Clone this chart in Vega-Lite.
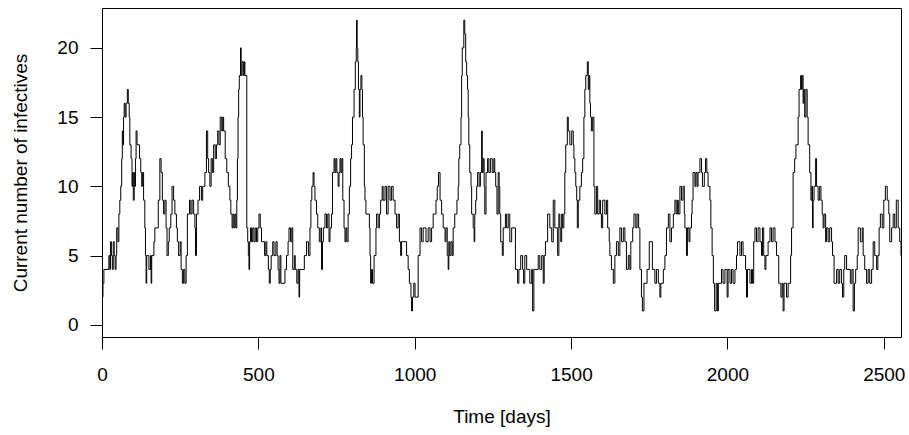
{
  "$schema": "https://vega.github.io/schema/vega-lite/v6.json",
  "description": "Step plot of the current number of infectives over seven years of a simulated epidemic.",
  "width": 799,
  "height": 329,
  "autosize": "none",
  "padding": {"left": 102, "top": 8, "right": 8, "bottom": 98},
  "background": "white",
  "config": {
    "view": {"stroke": "black", "strokeWidth": 1},
    "font": "Liberation Sans",
    "axis": {
      "domain": false,
      "grid": false,
      "tickColor": "black",
      "tickSize": 12,
      "tickWidth": 1,
      "labelColor": "black",
      "labelFont": "Liberation Sans",
      "labelFontSize": 19,
      "titleColor": "black",
      "titleFont": "Liberation Sans",
      "titleFontSize": 19,
      "titleFontWeight": "normal"
    }
  },
  "data": {
    "values": [
      {"t":0,"n":2},{"t":3,"n":3},{"t":6,"n":4},{"t":22,"n":5},{"t":25,"n":4},{"t":27,"n":6},{"t":30,"n":5},{"t":33,"n":4},{"t":36,"n":6},{"t":39,"n":5},
      {"t":42,"n":4},{"t":45,"n":5},{"t":47,"n":7},{"t":51,"n":6},{"t":54,"n":8},{"t":57,"n":9},{"t":60,"n":10},{"t":63,"n":12},{"t":65,"n":14},{"t":67,"n":13},
      {"t":69,"n":15},{"t":71,"n":16},{"t":74,"n":15},{"t":77,"n":16},{"t":81,"n":17},{"t":84,"n":16},{"t":87,"n":15},{"t":89,"n":13},{"t":93,"n":12},{"t":96,"n":10},
      {"t":98,"n":11},{"t":100,"n":9},{"t":103,"n":11},{"t":105,"n":10},{"t":107,"n":12},{"t":109,"n":14},{"t":112,"n":13},{"t":120,"n":12},{"t":124,"n":11},{"t":127,"n":10},
      {"t":130,"n":11},{"t":133,"n":9},{"t":137,"n":7},{"t":139,"n":5},{"t":141,"n":3},{"t":143,"n":5},{"t":150,"n":4},{"t":155,"n":5},{"t":157,"n":3},{"t":159,"n":5},
      {"t":166,"n":6},{"t":169,"n":7},{"t":180,"n":9},{"t":185,"n":12},{"t":189,"n":11},{"t":193,"n":9},{"t":197,"n":8},{"t":201,"n":9},{"t":205,"n":7},{"t":208,"n":5},
      {"t":212,"n":6},{"t":215,"n":7},{"t":220,"n":8},{"t":224,"n":10},{"t":229,"n":9},{"t":233,"n":8},{"t":238,"n":7},{"t":241,"n":6},{"t":245,"n":5},{"t":250,"n":6},
      {"t":253,"n":4},{"t":257,"n":3},{"t":261,"n":4},{"t":265,"n":3},{"t":269,"n":5},{"t":273,"n":8},{"t":280,"n":9},{"t":284,"n":8},{"t":288,"n":9},{"t":293,"n":8},
      {"t":297,"n":7},{"t":299,"n":5},{"t":302,"n":8},{"t":307,"n":9},{"t":312,"n":10},{"t":318,"n":9},{"t":322,"n":10},{"t":329,"n":11},{"t":334,"n":14},{"t":338,"n":12},
      {"t":341,"n":11},{"t":345,"n":10},{"t":349,"n":12},{"t":353,"n":11},{"t":357,"n":13},
      {"t":362,"n":12},{"t":366,"n":13},{"t":370,"n":14},{"t":374,"n":13},{"t":378,"n":15},{"t":383,"n":14},{"t":386,"n":15},{"t":389,"n":14},{"t":394,"n":12},{"t":399,"n":11},
      {"t":404,"n":10},{"t":409,"n":9},{"t":412,"n":8},{"t":416,"n":7},{"t":419,"n":8},{"t":422,"n":7},{"t":425,"n":8},{"t":428,"n":7},{"t":431,"n":9},{"t":433,"n":12},
      {"t":435,"n":15},{"t":437,"n":17},{"t":439,"n":18},{"t":443,"n":20},{"t":445,"n":18},{"t":448,"n":19},{"t":452,"n":18},{"t":455,"n":19},{"t":457,"n":18},{"t":463,"n":7},
      {"t":466,"n":6},{"t":468,"n":5},{"t":470,"n":4},{"t":472,"n":6},{"t":475,"n":7},{"t":478,"n":6},{"t":482,"n":7},{"t":486,"n":6},{"t":490,"n":7},{"t":494,"n":6},
      {"t":498,"n":7},{"t":502,"n":8},{"t":506,"n":7},{"t":510,"n":6},{"t":520,"n":5},{"t":524,"n":6},{"t":527,"n":5},{"t":532,"n":4},{"t":535,"n":3},{"t":538,"n":4},
      {"t":541,"n":5},{"t":546,"n":6},{"t":550,"n":5},{"t":556,"n":6},{"t":560,"n":5},{"t":563,"n":4},{"t":566,"n":3},{"t":569,"n":5},{"t":572,"n":3},{"t":585,"n":4},
      {"t":590,"n":5},{"t":595,"n":6},{"t":598,"n":7},{"t":603,"n":6},{"t":607,"n":7},{"t":610,"n":4},{"t":615,"n":5},{"t":618,"n":4},{"t":623,"n":3},{"t":627,"n":4},
      {"t":630,"n":2},{"t":632,"n":4},{"t":647,"n":5},{"t":654,"n":6},{"t":660,"n":5},{"t":665,"n":7},{"t":668,"n":9},{"t":671,"n":10},{"t":675,"n":11},{"t":678,"n":10},
      {"t":681,"n":9},{"t":686,"n":8},{"t":690,"n":7},{"t":695,"n":6},{"t":700,"n":7},{"t":702,"n":4},{"t":705,"n":6},{"t":708,"n":7},{"t":713,"n":8},{"t":718,"n":7},
      {"t":722,"n":8},{"t":726,"n":6},
      {"t":729,"n":7},{"t":734,"n":8},{"t":737,"n":11},{"t":742,"n":12},{"t":745,"n":11},{"t":748,"n":12},{"t":751,"n":11},{"t":755,"n":10},{"t":758,"n":11},{"t":761,"n":12},
      {"t":764,"n":11},{"t":767,"n":12},{"t":770,"n":9},{"t":774,"n":7},{"t":777,"n":6},{"t":780,"n":7},{"t":783,"n":6},{"t":787,"n":8},{"t":791,"n":10},{"t":795,"n":12},
      {"t":798,"n":13},{"t":801,"n":15},{"t":806,"n":17},{"t":810,"n":19},{"t":813,"n":20},{"t":814,"n":22},{"t":816,"n":20},{"t":818,"n":19},{"t":820,"n":17},{"t":823,"n":15},
      {"t":825,"n":17},{"t":828,"n":18},{"t":831,"n":17},{"t":833,"n":15},{"t":835,"n":13},{"t":839,"n":10},{"t":841,"n":9},{"t":844,"n":8},{"t":855,"n":7},{"t":857,"n":5},
      {"t":859,"n":3},{"t":862,"n":4},{"t":865,"n":3},{"t":870,"n":5},{"t":876,"n":7},{"t":878,"n":8},{"t":883,"n":7},{"t":887,"n":8},{"t":891,"n":9},{"t":896,"n":10},
      {"t":899,"n":9},{"t":905,"n":10},{"t":910,"n":8},{"t":915,"n":10},{"t":921,"n":9},{"t":926,"n":10},{"t":931,"n":9},{"t":937,"n":8},{"t":942,"n":7},{"t":947,"n":8},
      {"t":951,"n":6},{"t":955,"n":5},{"t":958,"n":6},{"t":974,"n":5},{"t":979,"n":4},{"t":983,"n":3},{"t":988,"n":2},{"t":990,"n":1},{"t":993,"n":2},{"t":997,"n":3},
      {"t":1001,"n":2},{"t":1011,"n":5},{"t":1017,"n":7},{"t":1022,"n":6},{"t":1027,"n":7},{"t":1036,"n":6},{"t":1043,"n":7},{"t":1049,"n":6},{"t":1054,"n":7},{"t":1059,"n":8},
      {"t":1068,"n":9},{"t":1072,"n":10},{"t":1076,"n":11},{"t":1081,"n":9},{"t":1086,"n":8},{"t":1091,"n":7},
      {"t":1097,"n":6},{"t":1100,"n":7},{"t":1104,"n":5},{"t":1107,"n":4},{"t":1109,"n":6},{"t":1112,"n":5},{"t":1116,"n":6},{"t":1120,"n":5},{"t":1123,"n":7},{"t":1128,"n":8},
      {"t":1135,"n":9},{"t":1139,"n":10},{"t":1141,"n":12},{"t":1144,"n":13},{"t":1148,"n":15},{"t":1150,"n":18},{"t":1152,"n":20},{"t":1157,"n":22},{"t":1160,"n":21},{"t":1163,"n":19},
      {"t":1166,"n":18},{"t":1169,"n":17},{"t":1171,"n":15},{"t":1173,"n":13},{"t":1176,"n":11},{"t":1180,"n":10},{"t":1182,"n":8},{"t":1187,"n":7},{"t":1190,"n":6},{"t":1192,"n":8},
      {"t":1195,"n":9},{"t":1198,"n":10},{"t":1201,"n":11},{"t":1206,"n":10},{"t":1210,"n":11},{"t":1214,"n":14},{"t":1216,"n":11},{"t":1219,"n":12},{"t":1222,"n":10},{"t":1224,"n":8},
      {"t":1228,"n":11},{"t":1233,"n":12},{"t":1237,"n":11},{"t":1242,"n":12},{"t":1248,"n":11},{"t":1253,"n":12},{"t":1256,"n":11},{"t":1259,"n":10},{"t":1263,"n":8},{"t":1267,"n":11},
      {"t":1270,"n":10},{"t":1272,"n":8},{"t":1275,"n":6},{"t":1280,"n":5},{"t":1283,"n":7},{"t":1290,"n":8},{"t":1294,"n":7},{"t":1299,"n":8},{"t":1304,"n":6},{"t":1310,"n":7},
      {"t":1322,"n":4},{"t":1329,"n":3},{"t":1333,"n":4},{"t":1339,"n":5},{"t":1345,"n":4},{"t":1348,"n":3},{"t":1352,"n":5},{"t":1358,"n":4},{"t":1368,"n":3},{"t":1374,"n":4},
      {"t":1377,"n":1},{"t":1381,"n":4},{"t":1395,"n":5},{"t":1400,"n":4},{"t":1406,"n":5},{"t":1411,"n":3},{"t":1414,"n":5},{"t":1418,"n":6},{"t":1425,"n":8},{"t":1432,"n":7},
      {"t":1438,"n":6},{"t":1443,"n":9},{"t":1448,"n":7},{"t":1457,"n":5},{"t":1461,"n":8},
      {"t":1464,"n":7},{"t":1467,"n":6},{"t":1470,"n":8},{"t":1473,"n":7},{"t":1477,"n":8},{"t":1480,"n":11},{"t":1483,"n":13},{"t":1488,"n":15},{"t":1491,"n":14},{"t":1496,"n":13},
      {"t":1502,"n":14},{"t":1507,"n":13},{"t":1509,"n":12},{"t":1512,"n":11},{"t":1515,"n":10},{"t":1518,"n":9},{"t":1520,"n":7},{"t":1523,"n":9},{"t":1528,"n":10},{"t":1533,"n":11},
      {"t":1537,"n":12},{"t":1541,"n":15},{"t":1544,"n":17},{"t":1547,"n":18},{"t":1552,"n":19},{"t":1555,"n":17},{"t":1558,"n":18},{"t":1560,"n":16},{"t":1562,"n":15},{"t":1565,"n":14},
      {"t":1569,"n":15},{"t":1573,"n":10},{"t":1576,"n":8},{"t":1581,"n":10},{"t":1585,"n":8},{"t":1590,"n":9},{"t":1594,"n":8},{"t":1597,"n":7},{"t":1601,"n":9},{"t":1608,"n":8},
      {"t":1613,"n":9},{"t":1617,"n":7},{"t":1622,"n":6},{"t":1624,"n":5},{"t":1629,"n":4},{"t":1635,"n":3},{"t":1640,"n":5},{"t":1645,"n":6},{"t":1651,"n":5},{"t":1656,"n":7},
      {"t":1661,"n":6},{"t":1667,"n":7},{"t":1672,"n":6},{"t":1677,"n":4},{"t":1683,"n":5},{"t":1688,"n":4},{"t":1691,"n":6},{"t":1697,"n":7},{"t":1701,"n":8},{"t":1707,"n":7},
      {"t":1711,"n":8},{"t":1716,"n":7},{"t":1720,"n":4},{"t":1725,"n":2},{"t":1728,"n":1},{"t":1733,"n":3},{"t":1743,"n":4},{"t":1750,"n":6},{"t":1760,"n":4},{"t":1768,"n":3},
      {"t":1773,"n":4},{"t":1779,"n":3},{"t":1784,"n":2},{"t":1787,"n":3},{"t":1795,"n":4},{"t":1800,"n":5},{"t":1805,"n":7},{"t":1811,"n":8},{"t":1816,"n":6},{"t":1821,"n":7},
      {"t":1827,"n":8},
      {"t":1832,"n":9},{"t":1836,"n":8},{"t":1840,"n":9},{"t":1843,"n":8},{"t":1848,"n":10},{"t":1853,"n":9},{"t":1858,"n":10},{"t":1862,"n":8},{"t":1864,"n":7},{"t":1869,"n":5},
      {"t":1872,"n":7},{"t":1877,"n":6},{"t":1880,"n":7},{"t":1885,"n":8},{"t":1887,"n":9},{"t":1890,"n":11},{"t":1896,"n":10},{"t":1899,"n":11},{"t":1903,"n":10},{"t":1906,"n":11},
      {"t":1912,"n":12},{"t":1917,"n":11},{"t":1920,"n":10},{"t":1926,"n":11},{"t":1930,"n":12},{"t":1934,"n":11},{"t":1938,"n":10},{"t":1944,"n":9},{"t":1947,"n":7},{"t":1951,"n":5},
      {"t":1955,"n":3},{"t":1959,"n":1},{"t":1964,"n":3},{"t":1968,"n":1},{"t":1971,"n":3},{"t":1981,"n":4},{"t":1986,"n":3},{"t":1992,"n":4},{"t":1999,"n":2},{"t":2002,"n":4},
      {"t":2008,"n":3},{"t":2013,"n":4},{"t":2018,"n":3},{"t":2024,"n":4},{"t":2029,"n":5},{"t":2032,"n":6},{"t":2040,"n":5},{"t":2045,"n":6},{"t":2050,"n":5},{"t":2058,"n":4},
      {"t":2061,"n":2},{"t":2064,"n":4},{"t":2072,"n":3},{"t":2077,"n":4},{"t":2080,"n":3},{"t":2084,"n":6},{"t":2088,"n":7},{"t":2093,"n":6},{"t":2098,"n":7},{"t":2104,"n":6},
      {"t":2109,"n":5},{"t":2112,"n":7},{"t":2116,"n":5},{"t":2120,"n":4},{"t":2123,"n":5},{"t":2130,"n":6},{"t":2136,"n":7},{"t":2141,"n":6},{"t":2146,"n":7},{"t":2152,"n":6},
      {"t":2157,"n":5},{"t":2164,"n":3},{"t":2171,"n":2},{"t":2175,"n":3},{"t":2178,"n":1},{"t":2181,"n":3},{"t":2189,"n":2},{"t":2194,"n":3},
      {"t":2202,"n":5},{"t":2205,"n":7},{"t":2210,"n":11},{"t":2215,"n":12},{"t":2219,"n":13},{"t":2226,"n":15},{"t":2229,"n":17},{"t":2234,"n":18},{"t":2237,"n":17},{"t":2239,"n":18},
      {"t":2242,"n":16},{"t":2244,"n":17},{"t":2247,"n":15},{"t":2251,"n":17},{"t":2255,"n":15},{"t":2258,"n":13},{"t":2263,"n":11},{"t":2267,"n":9},{"t":2270,"n":10},{"t":2272,"n":7},
      {"t":2274,"n":9},{"t":2277,"n":10},{"t":2282,"n":12},{"t":2285,"n":10},{"t":2290,"n":9},{"t":2295,"n":10},{"t":2299,"n":9},{"t":2303,"n":8},{"t":2306,"n":7},{"t":2309,"n":8},
      {"t":2314,"n":6},{"t":2317,"n":7},{"t":2322,"n":6},{"t":2327,"n":7},{"t":2333,"n":6},{"t":2336,"n":5},{"t":2341,"n":3},{"t":2349,"n":4},{"t":2354,"n":3},{"t":2359,"n":4},
      {"t":2365,"n":3},{"t":2368,"n":2},{"t":2372,"n":4},{"t":2375,"n":5},{"t":2381,"n":4},{"t":2393,"n":3},{"t":2398,"n":4},{"t":2402,"n":1},{"t":2406,"n":3},{"t":2410,"n":4},
      {"t":2415,"n":5},{"t":2418,"n":7},{"t":2425,"n":6},{"t":2431,"n":7},{"t":2434,"n":5},{"t":2439,"n":4},{"t":2445,"n":3},{"t":2450,"n":4},{"t":2455,"n":3},{"t":2461,"n":4},
      {"t":2466,"n":6},{"t":2471,"n":5},{"t":2477,"n":4},{"t":2481,"n":5},{"t":2485,"n":7},{"t":2489,"n":8},{"t":2495,"n":7},{"t":2500,"n":9},{"t":2505,"n":10},{"t":2511,"n":9},
      {"t":2516,"n":8},{"t":2519,"n":6},{"t":2525,"n":7},{"t":2530,"n":8},{"t":2535,"n":7},{"t":2540,"n":9},{"t":2546,"n":7},{"t":2551,"n":6},{"t":2555,"n":5}
    ]
  },
  "mark": {"type": "line", "interpolate": "step-after", "color": "black", "strokeWidth": 1, "clip": true},
  "encoding": {
    "x": {
      "field": "t",
      "type": "quantitative",
      "scale": {"domain": [0, 2555], "nice": false, "zero": false},
      "axis": {
        "title": "Time [days]",
        "values": [0, 500, 1000, 1500, 2000, 2500],
        "format": "d",
        "labelPadding": 16,
        "titlePadding": 23,
        "labelOverlap": false,
        "labelFlush": false
      }
    },
    "y": {
      "field": "n",
      "type": "quantitative",
      "scale": {"domain": [-0.88, 22.88], "nice": false, "zero": false},
      "axis": {
        "title": "Current number of infectives",
        "values": [0, 5, 10, 15, 20],
        "format": "d",
        "labelPadding": 12,
        "titlePadding": 26,
        "labelOverlap": false
      }
    }
  }
}
